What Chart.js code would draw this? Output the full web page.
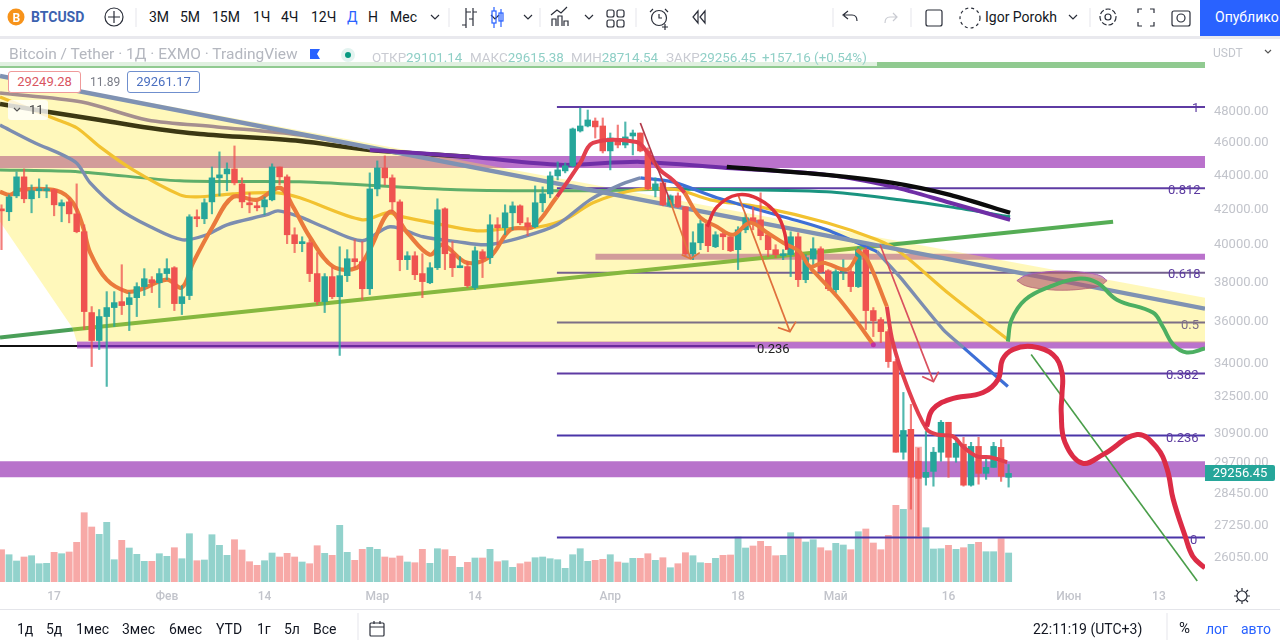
<!DOCTYPE html>
<html>
<head>
<meta charset="utf-8">
<script src="https://cdn.jsdelivr.net/npm/chart.js@4/dist/chart.umd.min.js"></script>
<style>
html, body { margin: 0; padding: 0; background: #fff; overflow: hidden; }
#wrap { position: relative; width: 1280px; height: 642px; font-family: Roboto, sans-serif; color: #131722; }
canvas { position: absolute; left: 0; top: 0; }
.t { position: absolute; white-space: nowrap; line-height: 1; }
.bar { font-size: 14px; }
.fib { font-size: 13px; color: #5b3a9f; transform: translateY(-50%); }
.leg { font-size: 13.4px; top: 51px; color: #8fcfc6; }
.leg b { font-weight: 400; color: #c9cbd2; }
.box { position: absolute; top: 71px; height: 20px; width: 71px; background: #fff; border-radius: 3px; font-size: 13px; line-height: 20px; text-align: center; }
</style>
</head>
<body>
<div id="wrap">
  <canvas id="chart" width="1280" height="642"></canvas>

  <!-- шапка -->
  <div style="position:absolute;left:0;top:0;width:1280px;height:36px;background:#fff"></div>
  <div style="position:absolute;left:0;top:36px;width:1280px;height:3px;background:#e9e9ee"></div>
  <div style="position:absolute;left:1200px;top:0;width:80px;height:36px;background:#2962ff"></div>
  <div class="t" style="left:31px;top:10px;font-size:14px;font-weight:700;color:#3b62b0">BTCUSD</div>
  <div class="t bar" style="left:149px;top:10px">3М</div>
  <div class="t bar" style="left:180px;top:10px">5М</div>
  <div class="t bar" style="left:212px;top:10px">15М</div>
  <div class="t bar" style="left:253px;top:10px">1Ч</div>
  <div class="t bar" style="left:281px;top:10px">4Ч</div>
  <div class="t bar" style="left:311px;top:10px">12Ч</div>
  <div class="t bar" style="left:347px;top:10px;color:#2962ff">Д</div>
  <div class="t bar" style="left:368px;top:10px">Н</div>
  <div class="t bar" style="left:390px;top:10px">Мес</div>
  <div class="t bar" style="left:985px;top:10px">Igor Porokh</div>
  <div class="t bar" style="left:1215px;top:10px;color:#fff">Опублико</div>

  <!-- легенда -->
  <div style="position:absolute;left:0;top:41px;width:877px;height:25px;background:rgba(255,255,255,.72)"></div>
  <div class="t" style="left:9px;top:47px;font-size:15.5px;color:#b4b7bf">Bitcoin / Tether · 1Д · EXMO · TradingView</div>
  <div class="t leg" style="left:372px"><b>ОТКР</b>29101.14</div>
  <div class="t leg" style="left:470px"><b>МАКС</b>29615.38</div>
  <div class="t leg" style="left:571px"><b>МИН</b>28714.54</div>
  <div class="t leg" style="left:666px"><b>ЗАКР</b>29256.45</div>
  <div class="t leg" style="left:762px">+157.16 (+0.54%)</div>
  <div class="t" style="left:1213px;top:47px;font-size:12px;color:#c3c6cd">USDT</div>

  <div class="box" style="left:8px;border:1px solid #ef9a9a;color:#d9545f">29249.28</div>
  <div class="t" style="left:90px;top:76px;font-size:12px;color:#787b86">11.89</div>
  <div class="box" style="left:127px;border:1px solid #6f8fce;color:#4a6fc0">29261.17</div>
  <div style="position:absolute;left:8px;top:100px;width:40px;height:20px;background:rgba(255,255,255,.8);border-radius:3px"></div>
  <div class="t" style="left:29px;top:103px;font-size:13px;color:#444">11</div>

  <!-- подписи уровней -->
  <div class="t fib" style="left:1192px;top:107px">1</div>
  <div class="t fib" style="left:1168px;top:189px">0.812</div>
  <div class="t fib" style="left:1168px;top:273px">0.618</div>
  <div class="t fib" style="left:1181px;top:324px;color:#7d6f86">0.5</div>
  <div class="t fib" style="left:1166px;top:374px">0.382</div>
  <div class="t fib" style="left:1166px;top:437px">0.236</div>
  <div class="t fib" style="left:1190px;top:539px">0</div>
  <div class="t" style="left:757px;top:342px;font-size:13px;color:#222">0.236</div>

  <!-- текущая цена -->
  <div style="position:absolute;left:1205px;top:465px;width:70px;height:16px;background:#26a69a;border-radius:0 2px 2px 0;color:#fff;font-size:13px;line-height:16px;text-align:center">29256.45</div>

  <!-- низ -->
  <div style="position:absolute;left:0;top:609px;width:1280px;height:1px;background:#e4e5ea"></div>
  <div class="t bar" style="left:17px;top:622px">1д</div>
  <div class="t bar" style="left:46px;top:622px">5д</div>
  <div class="t bar" style="left:76px;top:622px">1мес</div>
  <div class="t bar" style="left:122px;top:622px">3мес</div>
  <div class="t bar" style="left:169px;top:622px">6мес</div>
  <div class="t bar" style="left:216px;top:622px">YTD</div>
  <div class="t bar" style="left:257px;top:622px">1г</div>
  <div class="t bar" style="left:284px;top:622px">5л</div>
  <div class="t bar" style="left:313px;top:622px">Все</div>
  <div class="t bar" style="left:1033px;top:622px">22:11:19 (UTC+3)</div>
  <div class="t" style="left:1179px;top:621px;font-size:15px">%</div>
  <div class="t bar" style="left:1206px;top:622px;color:#2962ff">лог</div>
  <div class="t bar" style="left:1241px;top:622px;color:#2962ff">авто</div>

  <!-- значки -->
  <svg width="1280" height="642" style="position:absolute;left:0;top:0;pointer-events:none" fill="none" stroke="#2a2e39" stroke-width="1.2">
    <circle cx="16" cy="17" r="8.5" fill="#f7931a" stroke="none"/>
    <text x="12.5" y="21.5" font-size="12" font-weight="700" fill="#fff" stroke="none" font-family="Roboto">B</text>
    <circle cx="114" cy="17" r="9"/><path d="M114 11v12M108 17h12"/>
    <path d="M136 8v19" stroke="#e9e9ee"/>
    <path d="M431 15l4 4 4-4M491 15l4 4 4-4M524 15l4 4 4-4M585 15l4 4 4-4M1069 15l4 4 4-4"/>
    <path d="M449 8v19M540 8v19M636 8v19M833 8v19M911 8v19M1090 8v19" stroke="#e9e9ee"/>
    <path d="M466 8v20M466 12h5M466 25h-4M473 8v18M473 12h4M473 19h-4"/>
    <rect x="492" y="11" width="4" height="12" stroke="#2962ff"/><path d="M494 7v4M494 23v5M501 9v18" stroke="#2962ff"/><rect x="499" y="13" width="4" height="8" stroke="#2962ff"/>
    <path d="M552 26v-7h4v7M558 26v-10h4v10M564 26v-5h4v5M551 15l6-5 4 3 6-6"/>
    <rect x="607" y="10" width="7" height="7" rx="2"/><rect x="617" y="10" width="7" height="7" rx="2"/><rect x="607" y="20" width="7" height="7" rx="2"/><rect x="617" y="20" width="7" height="7" rx="2"/>
    <circle cx="659" cy="18" r="7.5"/><path d="M659 14v4h3M653 9l-3 3M665 9l3 3M665 24v6M662 27h6"/>
    <path d="M698 11l-5 6 5 6zM705 11l-5 6 5 6z"/>
    <path d="M846 17h-7M843 13l-5 4 5 4M839 17h8c4 0 5 3 5 6" transform="translate(5 -2)"/>
    <path d="M893 13l4 4-4 4M897 17h-7c-4 0-5 3-5 6" stroke="#c9cbd2"/>
    <rect x="926" y="10" width="16" height="16" rx="2"/>
    <circle cx="970" cy="18" r="10" stroke-dasharray="3 3"/>
    <circle cx="1108" cy="17" r="3"/><circle cx="1108" cy="17" r="8" stroke-dasharray="5 2"/>
    <path d="M1138 13v-4h4M1150 9h4v4M1154 22v4h-4M1142 26h-4v-4"/>
    <rect x="1172" y="11" width="18" height="15" rx="2"/><circle cx="1181" cy="18" r="4"/>
    <path d="M310 49h10l-3 5 3 5h-10z" fill="#2962ff" stroke="none"/>
    <circle cx="348" cy="55" r="7" fill="#e3f3f0" stroke="none"/><circle cx="348" cy="55" r="3" fill="#089981" stroke="none"/>
    <path d="M14 108l3 3 3-3M1265 50l3 3 3-3" stroke="#555"/>
    <rect x="370" y="623" width="14" height="13" rx="1"/><path d="M370 627h14M374 621v3M380 621v3"/>
    <path d="M358 613v27M1167 613v27" stroke="#e9e9ee"/>
    <circle cx="1242" cy="596" r="5"/><path d="M1242 588v3M1242 601v3M1234 596h3M1247 596h3M1236 590l2 2M1246 600l2 2M1248 590l-2 2M1238 600l-2 2"/>
  </svg>
</div>

<script>
// свечи, день за днём (индекс 0 = 10 янв, 111 = 1 мая)
const opens = [
  41980, 41870, 42790, 43920, 42620, 43090, 43090, 43150, 42210, 42440,
  41750, 40740, 36470, 35100, 36270, 36720, 37020, 36870, 37220, 37790,
  38150, 37990, 38470, 38780, 36920, 37330, 41580, 41470, 42440, 43860,
  44100, 44400, 43500, 42390, 42210, 42150, 42560, 44520, 43920, 40570,
  40080, 40130, 38470, 37020, 38310, 37270, 38360, 39260, 39100, 37680,
  43200, 44460, 43860, 42440, 39210, 39420, 38470, 37990, 38780, 42040,
  39530, 38780, 38840, 37740, 39640, 39320, 41130, 40960, 41810, 42210,
  41240, 41020, 42390, 42910, 43980, 44280, 44590, 46770, 47090, 47410,
  47090, 45510, 46200, 45880, 46450, 46640, 45510, 43150, 43560, 42210,
  42790, 42150, 39530, 40130, 41190, 39910, 40630, 40460, 39750, 40850,
  41530, 41410, 40570, 39750, 39420, 39480, 40460, 38150, 39260, 39800,
  38620, 37630, 38570, 38570, 37790, 39750, 36570, 36120, 35530, 34100,
  30120, 31080, 29750, 29100, 29340, 30120, 31380, 29910, 30450, 28790,
  30360, 29260, 29500, 30320, 29101.14
];
const highs = [
  42270, 42850, 44220, 44400, 43440, 43800, 43440, 43200, 42560, 42680,
  43500, 41130, 36770, 36620, 37530, 37530, 38940, 37480, 37990, 38730,
  38310, 38730, 39260, 38840, 37840, 41700, 41980, 42620, 44520, 45450,
  44770, 45820, 43860, 42970, 42440, 42730, 44710, 44520, 44040, 40960,
  40460, 40290, 39590, 38470, 38780, 39910, 39750, 40290, 40190, 44160,
  44890, 45200, 44040, 42560, 39640, 39640, 39530, 39050, 42620, 42100,
  40190, 39370, 39100, 39910, 39750, 41700, 41530, 42270, 42440, 42270,
  41530, 43380, 43320, 44220, 44830, 44770, 46960, 48260, 48130, 47610,
  47610, 46640, 47150, 47350, 46830, 46640, 45700, 43860, 43620, 42850,
  42970, 42150, 40740, 41410, 41300, 40740, 40740, 40570, 41020, 41700,
  42150, 42970, 40740, 40020, 39750, 40740, 40680, 39480, 40410, 39910,
  38680, 38680, 39210, 38780, 39910, 39860, 36720, 36220, 35630, 34200,
  32690, 32160, 30280, 30990, 30320, 31460, 31380, 30740, 30740, 30530,
  30740, 29830, 30530, 30650, 29615.38
];
const lows = [
  39750, 41360, 42680, 42390, 41810, 42680, 42680, 41640, 41300, 41240,
  40680, 35630, 33870, 34670, 32960, 35780, 36370, 35580, 36270, 37330,
  37480, 36720, 38150, 36570, 36370, 37120, 41020, 41190, 41750, 42790,
  43090, 43440, 42100, 41810, 41920, 41700, 42500, 43440, 40080, 39590,
  39640, 38050, 36870, 36470, 37170, 34390, 38050, 38780, 37120, 37380,
  42790, 43440, 41920, 38620, 38680, 38150, 37220, 37940, 38680, 38680,
  38310, 38780, 37740, 37630, 38260, 39000, 40020, 40570, 40850, 41130,
  40520, 40960, 41870, 42680, 43740, 44160, 44520, 46700, 47030, 46320,
  45380, 44340, 45700, 45700, 45260, 45450, 43150, 42730, 42210, 42150,
  42100, 39370, 39210, 39750, 39640, 39860, 39750, 39640, 38680, 40680,
  40850, 40290, 39370, 39320, 39210, 38310, 37790, 37990, 38940, 38520,
  37580, 37480, 38150, 37530, 37740, 35630, 35290, 35000, 33830, 30120,
  29830, 27860, 26840, 28790, 28750, 29750, 29100, 29710, 28750, 28750,
  28830, 29020, 29500, 28940, 28714.54
];
const closes = [
  41920, 42730, 43920, 42620, 43090, 43150, 43150, 42270, 42390, 41750,
  40740, 36520, 35100, 36270, 36720, 36970, 36820, 37220, 37790, 38200,
  37990, 38470, 38730, 36920, 37270, 41580, 41470, 42390, 43860, 44040,
  44400, 43560, 42440, 42270, 42100, 42560, 44520, 43920, 40570, 40080,
  40130, 38470, 37020, 38310, 37270, 38360, 39260, 39100, 37680, 43200,
  44460, 43860, 42440, 39210, 39420, 38410, 38050, 38780, 41980, 39530,
  38780, 38840, 37840, 39690, 39260, 41130, 40960, 41810, 42210, 41240,
  41020, 42390, 42910, 43980, 44340, 44590, 46900, 47090, 47480, 47030,
  45510, 46320, 45880, 46390, 46640, 45510, 43200, 43500, 42270, 42790,
  42150, 39530, 40130, 41190, 39970, 40570, 40460, 39690, 40850, 41530,
  41190, 40520, 39750, 39480, 39480, 40460, 38150, 39320, 39800, 38570,
  37680, 38570, 38680, 37790, 39750, 36570, 36070, 35530, 34100, 30120,
  31030, 29100, 29060, 29300, 30120, 31380, 29910, 30490, 28790, 30360,
  29260, 29500, 30360, 29140, 29256.45
];
const volumes = [
  323, 273, 210, 250, 263, 183, 187, 297, 283, 300,
  397, 693, 550, 477, 597, 223, 417, 340, 277, 207,
  207, 283, 257, 343, 233, 483, 213, 220, 473, 367,
  267, 423, 320, 203, 167, 213, 290, 250, 287, 250,
  200, 183, 363, 287, 267, 567, 297, 217, 327, 347,
  327, 250, 240, 260, 200, 193, 327, 187, 333, 323,
  257, 147, 197, 240, 240, 327, 203, 213, 147, 183,
  200, 243, 250, 233, 223, 137, 273, 333, 207, 217,
  227, 273, 200, 190, 237, 237, 283, 217, 243, 143,
  183, 293, 263, 193, 187, 237, 267, 270, 450, 340,
  360, 407, 357, 263, 267, 493, 440, 400, 423, 343,
  313, 387, 370, 323, 503, 530, 390, 323, 467, 767,
  727, 1040, 1350, 543, 330, 333, 367, 327, 343, 377,
  397, 303, 303, 433, 290
];

const priceTicks = [48000, 46000, 44000, 42000, 40000, 38000, 36000, 34000, 32500, 30900, 29700, 28450, 27250, 26050];
const timeTicks = [7, 22, 35, 50, 63, 81, 98, 111, 126, 142, 154];
const timeLabels = ['17', 'Фев', '14', 'Мар', '14', 'Апр', '18', 'Май', '16', 'Июн', '13'];

// края шкал
const xMin = -0.2, xMax = 160.13;
const yMin = 25214, yMax = 52831;

// уровни фибо и зоны
const fibLevels = [48330, 43234, 38517, 35973, 33550, 30822, 26800];
const fibColors = ['#5e3ba3', '#5e3ba3', '#74608f', '#7d6f86', '#5e3ba3', '#4a35a8', '#4a35a8'];
const fibStart = 73.9;
const zoneStarts = [xMin, xMin, 79, 10.05, xMin];
const zoneTops = [51402, 45198, 39531, 35048, 29746];
const zoneBottoms = [50982, 44463, 39207, 34715, 29102];
const zoneColors = ['#90ca90', '#ba72cc', '#ba72cc', '#ba72cc', '#b873cb'];

// жёлтый клин
const wedgeTopX = [xMin, xMax];
const wedgeTopY = [50496, 37223];
const wedgeBottomX = [xMin, 9.5, 10, xMax];
const wedgeBottomY = [41300, 35678, 35048, 35000];

// трендовые
const greyTrendX = [xMin, xMax];
const greyTrendY = [50426, 36667];
const greenTrendX = [xMin, 9.5, 116.9, 147.9];
const greenTrendY = [35240, 35630, 39970, 41300];
const greenTrendColors = ['#4a9f58', '#86b83f', '#55ad55'];
const blackLineX = [xMin, 10.05];
const blackLineY = [34840, 34840];
const purpleLineX = [10.05, 100.25];
const purpleLineY = [34840, 34840];

// скользящие
const darkMaX = [xMin, 6.3, 13.1, 18.8, 26.4, 39.7, 49, 62.3];
const darkMaY = [48530, 48000, 47480, 47030, 46580, 46130, 45570, 45140];
const taupeMaX = [xMin, 10.7, 19.4, 28.7, 39.7, 49, 58.3];
const taupeMaY = [49270, 48660, 47480, 47030, 46510, 45700, 44950];
const purpleMaX = [49, 62.3, 74.3, 85, 96.5, 109.8, 118.6, 126.2, 134.2];
const purpleMaY = [45570, 45140, 44650, 44830, 44460, 44040, 43320, 42390, 41410];
const blackMaX = [96.5, 109.8, 118.6, 126.2, 134.2];
const blackMaY = [44520, 44040, 43560, 42850, 41810];
const tealMaX = [90.3, 109.8, 119.5, 126.2, 134.2];
const tealMaY = [43200, 43030, 42560, 42150, 41580];
const greenMaX = [xMin, 10.4, 23.75, 39.7, 60.6, 78.3, 90.3];
const greenMaY = [44340, 44220, 43680, 43620, 43150, 43090, 43200];
const goldMaX = [xMin, 7.5, 10.05, 13.1, 17.5, 23.75, 26, 30.8, 36.7, 39.7, 48, 51.3, 53.4, 57.4, 63.3, 67.3, 71.6, 75.2, 78.7, 84.5, 89.9, 94.3, 100.9, 109.8, 116.5, 119.5, 126.2, 133.9];
const goldMaY = [48996, 47480, 46960, 45760, 44340, 42850, 42730, 42910, 42970, 42680, 41410, 41810, 41580, 41240, 40790, 40910, 41020, 41470, 42390, 43150, 43150, 42560, 42150, 41240, 40290, 39640, 37380, 35150];
const slateMaX = [xMin, 4.2, 9.8, 11.8, 15.4, 19.8, 24.1, 27.3, 30, 35.3, 36.8, 39.7, 42.8, 48, 51.7, 56.1, 60.6, 64.6, 69.4, 73.9, 78.3, 82.3, 85];
const slateMaY = [47150, 46070, 44830, 43560, 42100, 41020, 40290, 40570, 41130, 41700, 41920, 41580, 41020, 40240, 41020, 40460, 40190, 40020, 40460, 41130, 42560, 43440, 43860];
const blueMaX = [85, 89.3, 95.2, 104.5, 109.8, 116.5];
const blueMaY = [43860, 43620, 42680, 41530, 40850, 39640];
const slateTailX = [116.5, 119.5, 125.3, 128];
const slateTailY = [39640, 38310, 35630, 34760];
const blueTailX = [128, 133.9];
const blueTailY = [34760, 32960];

// быстрая
const emaAX = [xMin, 1.13, 2.46, 7.4, 9.5, 10.84, 11.8, 14, 16.7, 18.4, 22, 24, 25.5, 28.1, 30.8, 34, 37.05, 38.8, 41, 44.1, 47.3, 49, 51.7, 54, 57, 58.7, 61.9, 65, 67.7, 70.7, 73.9];
const emaAY = [43030, 42850, 43150, 43090, 42390, 41020, 39590, 38150, 37530, 37630, 38150, 37740, 39050, 41020, 42730, 42560, 43260, 42150, 40460, 38840, 38780, 39750, 41870, 40680, 39480, 40020, 39050, 39370, 40850, 41020, 42730];
const emaRedX = [73.9, 75.2, 77, 78.7, 84.5, 86, 87.6, 89.3, 90.9];
const emaRedY = [42730, 43560, 44770, 46010, 46070, 45380, 44340, 43740, 42970];
const emaBX = [90.9, 92.9, 95.2, 97.3, 99.6, 101.9, 104, 106.2, 107.6, 109.3, 112.5, 113.8];
const emaBY = [42970, 41580, 41020, 40570, 41240, 40680, 40130, 39640, 38840, 39050, 38680, 39370];
const emaCX = [113.8, 115.2, 117.8];
const emaCY = [39750, 39210, 36770];
const emaTailX = [117.8, 118.6, 120.5, 123.1, 124.5, 126.6, 127.9, 129.8, 131.5, 133.8];
const emaTailY = [36770, 35000, 32960, 31080, 30860, 30780, 30360, 29950, 29910, 29710];
const emaBranchX = [107.6, 111.2, 113.3, 116];
const emaBranchY = [38780, 37270, 36270, 34900];

// рисунки от руки
const arcX = [93.9, 95.2, 97.9, 100.9, 103.2, 104.2, 104.5];
const arcY = [41020, 42150, 42850, 42560, 41700, 40680, 39750];
const forecastRedX = [123.1, 123.9, 126.2, 130.6, 132.6, 133.2, 134.6, 137.1, 139.9, 141.1, 141.1, 141, 141.5, 143.8, 146.6, 151.1, 153.7, 155.1, 155.9, 157.5, 158.5, xMax];
const forecastRedY = [31200, 31940, 32380, 32690, 33280, 34200, 34670, 34810, 34430, 33590, 32600, 31810, 30530, 29670, 30030, 30860, 30320, 29420, 28240, 26840, 26120, 25700];
const forecastGreenX = [133.9, 134.4, 136.2, 139.5, 143.2, 145.8, 148.4, 153.2, 154.5, 155.9, 157.7, xMax];
const forecastGreenY = [35050, 36120, 37120, 37790, 38200, 37990, 37120, 36470, 35780, 34900, 34530, 34720];
const thinGreenX = [137, 159.1];
const thinGreenY = [34430, 25250];
const ovalX = [135.1, 136.2, 138.2, 141.1, 144.2, 146.2, 147.1];
const ovalTop = [38100, 38360, 38520, 38600, 38520, 38360, 38100];
const ovalBottom = [38100, 37840, 37680, 37600, 37680, 37840, 38100];

// стрелки
const arrow1aX = [85, 88.9];
const arrow1aY = [47280, 42560];
const arrow1bX = [88.9, 91.7];
const arrow1bY = [42560, 39260];
const arrow1HeadX = [90.5, 91.7, 92.9];
const arrow1HeadY = [39480, 39260, 39590];
const arrow2X = [98, 104.9];
const arrow2Y = [42850, 35530];
const arrow2HeadX = [103.3, 104.9, 105.7];
const arrow2HeadY = [35730, 35530, 36020];
const arrow3X = [116.9, 124];
const arrow3Y = [40020, 33180];
const arrow3HeadX = [122.5, 124, 124.7];
const arrow3HeadY = [33410, 33180, 33640];

const upColor = '#26a69a', downColor = '#ef5350';
const upWick = 'rgba(38,166,154,.8)', downWick = 'rgba(239,83,80,.75)';
const upVol = 'rgba(38,166,154,.5)', downVol = 'rgba(239,83,80,.5)';

function pts(xs, ys) {
    return xs.map((x, i) => ({ x: x, y: ys[i] }));
}

function line(xs, ys, color, width, order, extra) {
    return Object.assign({
        type: 'line',
        data: pts(xs, ys),
        borderColor: color,
        borderWidth: width,
        pointRadius: 0,
        tension: 0,
        fill: false,
        yAxisID: 'y',
        order: order
    }, extra || {});
}

const days = opens.map((_, i) => i);
const isUp = days.map(i => closes[i] >= opens[i]);

const datasets = [];

// зоны
zoneTops.forEach((top, i) => {
    datasets.push(line([zoneStarts[i], xMax], [top, top], 'transparent', 0, 100,
        { fill: { value: zoneBottoms[i] }, backgroundColor: zoneColors[i] }));
});

// клин поверх зон (fill до следующего набора)
datasets.push(line(wedgeTopX, wedgeTopY, 'transparent', 0, 90,
    { fill: '+1', backgroundColor: 'rgba(255,235,59,.35)' }));
datasets.push(line(wedgeBottomX, wedgeBottomY, 'transparent', 0, 91));

// объёмы
datasets.push({
    type: 'bar',
    data: days.map(i => ({ x: i, y: volumes[i] })),
    backgroundColor: days.map(i => isUp[i] ? upVol : downVol),
    barThickness: 6.2,
    grouped: false,
    yAxisID: 'y1',
    order: 80
});

// уровни
fibLevels.forEach((level, i) => {
    datasets.push(line([fibStart, xMax], [level, level], fibColors[i], 2, 70));
});
datasets.push(line(blackLineX, blackLineY, '#111', 2, 69));
datasets.push(line(purpleLineX, purpleLineY, '#6a2a9c', 2, 69));

// линии тренда
datasets.push(line(greenTrendX, greenTrendY, '#86b83f', 4, 65,
    { segment: { borderColor: c => greenTrendColors[c.p0DataIndex] } }));

// скользящие
datasets.push(line(greenMaX, greenMaY, '#5fae6a', 3, 60, { tension: 0.3 }));
datasets.push(line(tealMaX, tealMaY, '#1a9480', 3, 58, { tension: 0.3 }));
datasets.push(line(goldMaX, goldMaY, '#f2c230', 3.2, 57, { tension: 0.3 }));
datasets.push(line(slateMaX, slateMaY, '#7c8db0', 3.4, 56, { tension: 0.3 }));
datasets.push(line(slateTailX, slateTailY, '#7c8db0', 3.4, 56, { tension: 0.2 }));
datasets.push(line(blueMaX, blueMaY, '#3d6fd6', 3.2, 55, { tension: 0.3 }));
datasets.push(line(blueTailX, blueTailY, '#3d6fd6', 3.2, 55));
datasets.push(line(darkMaX, darkMaY, '#3c3813', 4.5, 54, { tension: 0.3 }));
datasets.push(line(taupeMaX, taupeMaY, '#a58f8f', 3.5, 53, { tension: 0.3 }));
datasets.push(line(greyTrendX, greyTrendY, '#7f92b3', 4.4, 52));
datasets.push(line(purpleMaX, purpleMaY, '#6f2ea6', 4, 51, { tension: 0.3 }));
datasets.push(line(blackMaX, blackMaY, '#0b0b0b', 4.2, 50, { tension: 0.3 }));

// свечи
datasets.push({
    type: 'bar',
    data: days.map(i => ({ x: i, y: [lows[i], highs[i]] })),
    backgroundColor: days.map(i => isUp[i] ? upWick : downWick),
    barThickness: 1.5,
    grouped: false,
    yAxisID: 'y',
    order: 41
});
datasets.push({
    type: 'bar',
    data: days.map(i => ({ x: i, y: [opens[i], closes[i]] })),
    backgroundColor: days.map(i => isUp[i] ? upColor : downColor),
    barThickness: 5.8,
    minBarLength: 2,
    grouped: false,
    yAxisID: 'y',
    order: 40
});

// быстрая поверх свечей
const emaStyle = { tension: 0.35 };
datasets.push(line(emaAX, emaAY, '#ea7a3c', 4.2, 45, emaStyle));
datasets.push(line(emaRedX, emaRedY, '#e2404e', 4, 30, emaStyle));
datasets.push(line(emaBX, emaBY, '#ea7a3c', 4, 30, emaStyle));
datasets.push(line(emaCX, emaCY, '#ea7a3c', 4, 30, emaStyle));
datasets.push(line(emaTailX, emaTailY, '#e2404e', 4, 30, emaStyle));
datasets.push(line(emaBranchX, emaBranchY, '#ea7a3c', 4, 30, emaStyle));
datasets.push(line([116], [34900], '#c030a0', 0, 29, { pointRadius: 2.5, pointBackgroundColor: '#c030a0' }));

// овал (fill между верхней и нижней дугой)
datasets.push(line(ovalX, ovalTop, '#a85ab8', 1, 25,
    { tension: 0.4, fill: '+1', backgroundColor: 'rgba(178,90,110,.62)' }));
datasets.push(line(ovalX, ovalBottom, 'rgba(178,90,110,.7)', 1, 25, { tension: 0.4 }));

// стрелки
datasets.push(line(arrow1aX, arrow1aY, '#b23a4a', 1.7, 20));
datasets.push(line(arrow1bX, arrow1bY, '#e0763c', 1.7, 20));
datasets.push(line(arrow1HeadX, arrow1HeadY, '#e0763c', 1.7, 20));
datasets.push(line(arrow2X, arrow2Y, '#e0703d', 1.7, 20));
datasets.push(line(arrow2HeadX, arrow2HeadY, '#e0703d', 1.7, 20));
datasets.push(line(arrow3X, arrow3Y, '#d9505f', 1.7, 20));
datasets.push(line(arrow3HeadX, arrow3HeadY, '#d9505f', 1.7, 20));

// от руки
datasets.push(line(arcX, arcY, '#e0323c', 3.5, 15, { tension: 0.4 }));
datasets.push(line(thinGreenX, thinGreenY, '#4a9e4a', 1.6, 12));
datasets.push(line(forecastGreenX, forecastGreenY, '#4caf62', 4, 11, { tension: 0.4 }));
datasets.push(line(forecastRedX, forecastRedY, '#dc2c46', 5, 10, { tension: 0.4 }));

new Chart(document.getElementById('chart').getContext('2d'), {
    data: { datasets: datasets },
    options: {
        responsive: false,
        animation: false,
        devicePixelRatio: 1,
        layout: { autoPadding: false, padding: { top: 42, left: 0, right: 0, bottom: 0 } },
        plugins: { legend: { display: false }, tooltip: { enabled: false } },
        scales: {
            x: {
                type: 'linear',
                offset: false,
                bounds: 'data',
                min: xMin,
                max: xMax,
                border: { display: false },
                grid: { display: false, drawTicks: false, offset: false },
                afterBuildTicks: s => { s.ticks = timeTicks.map(v => ({ value: v })); },
                afterFit: s => { s.height = 60; s.paddingLeft = 0; s.paddingRight = 0; },
                ticks: {
                    autoSkip: false,
                    maxRotation: 0,
                    padding: 8,
                    color: '#c2c4cb',
                    font: { family: 'Roboto', size: 12, weight: '500' },
                    callback: v => timeLabels[timeTicks.indexOf(v)]
                }
            },
            y: {
                type: 'logarithmic',
                position: 'right',
                bounds: 'data',
                min: yMin,
                max: yMax,
                border: { display: false },
                grid: { display: false, drawTicks: false },
                afterBuildTicks: s => { s.ticks = priceTicks.map(v => ({ value: v })); },
                afterFit: s => { s.width = 75; s.paddingTop = 0; s.paddingBottom = 0; },
                ticks: {
                    autoSkip: false,
                    padding: 9,
                    color: '#c2c4cb',
                    font: { family: 'Roboto', size: 13 },
                    callback: v => Number(v).toFixed(2)
                }
            },
            y1: {
                type: 'linear',
                display: false,
                min: 0,
                max: 5400
            }
        }
    }
});
</script>
</body>
</html>
